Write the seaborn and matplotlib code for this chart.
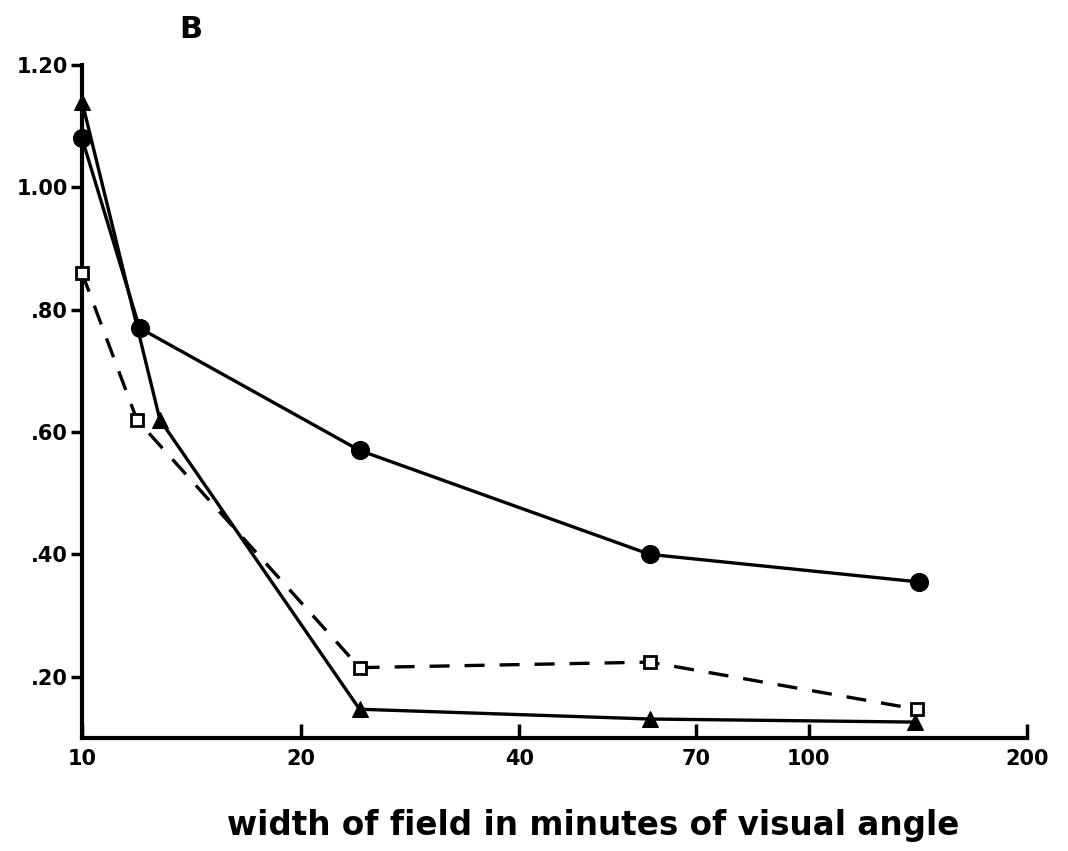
import matplotlib
matplotlib.use("Agg")
import matplotlib.pyplot as plt
import seaborn as sns
from matplotlib.ticker import FixedLocator, NullLocator, FixedFormatter

sns.set_theme(style="white")
plt.rcParams["font.family"] = ["DejaVu Sans"]
plt.rcParams["text.color"] = "black"
plt.rcParams["axes.labelcolor"] = "black"

# width of field (minutes of visual angle) and measured values per condition
width_circles = [10, 12.0, 24.1, 60.5, 142]
vals_circles = [1.08, 0.77, 0.57, 0.40, 0.355]

width_triangles = [10, 12.8, 24.1, 60.5, 140]
vals_triangles = [1.14, 0.62, 0.147, 0.131, 0.126]

width_squares = [10, 11.9, 24.1, 60.5, 141]
vals_squares = [0.86, 0.62, 0.215, 0.224, 0.147]

x_ticks = [10, 20, 40, 70, 100, 200]
x_tick_labels = ["10", "20", "40", "70", "100", "200"]
y_ticks = [0.20, 0.40, 0.60, 0.80, 1.00, 1.20]
y_tick_labels = [".20", ".40", ".60", ".80", "1.00", "1.20"]

fig = plt.figure(figsize=(10.68, 8.51), dpi=100)
ax = fig.add_axes([0.0768, 0.1328, 0.885, 0.791])

lw = 2.4
sns.lineplot(x=width_squares, y=vals_squares, ax=ax, color="black", lw=lw,
             linestyle=(0, (6, 4.5)), marker="s", markersize=9,
             markerfacecolor="white", markeredgecolor="black",
             markeredgewidth=2, zorder=3, clip_on=False)
sns.lineplot(x=width_triangles, y=vals_triangles, ax=ax, color="black", lw=lw,
             marker="^", markersize=11, markeredgecolor="black", zorder=4,
             clip_on=False)
sns.lineplot(x=width_circles, y=vals_circles, ax=ax, color="black", lw=lw,
             marker="o", markersize=13, markeredgecolor="black", zorder=5,
             clip_on=False)

ax.set_xscale("log")
ax.set_xlim(10, 200)
ax.set_ylim(0.10, 1.20)

ax.xaxis.set_major_locator(FixedLocator(x_ticks))
ax.xaxis.set_major_formatter(FixedFormatter(x_tick_labels))
ax.xaxis.set_minor_locator(NullLocator())
ax.yaxis.set_major_locator(FixedLocator(y_ticks))
ax.yaxis.set_major_formatter(FixedFormatter(y_tick_labels))

for side in ("top", "right"):
    ax.spines[side].set_visible(False)
for side in ("left", "bottom"):
    ax.spines[side].set_linewidth(3)
    ax.spines[side].set_color("black")

ax.tick_params(axis="x", direction="in", length=10, width=2.5, colors="black",
               labelsize=15, pad=8, bottom=True)
ax.tick_params(axis="y", direction="out", length=8, width=2.5, colors="black",
               labelsize=15, pad=2, left=True)
for lab in ax.get_xticklabels() + ax.get_yticklabels():
    lab.set_fontweight("heavy")

ax.set_xlabel("width of field in minutes of visual angle", fontsize=23.5,
              fontweight="heavy", color="black")
ax.xaxis.set_label_coords(0.541, -0.105)
ax.set_ylabel("")
ax.grid(False)

fig.text(0.168, 0.965, "B", fontsize=22, fontweight="heavy", color="black",
         ha="left", va="center")

fig.savefig("out.png", dpi=100, facecolor="white")
